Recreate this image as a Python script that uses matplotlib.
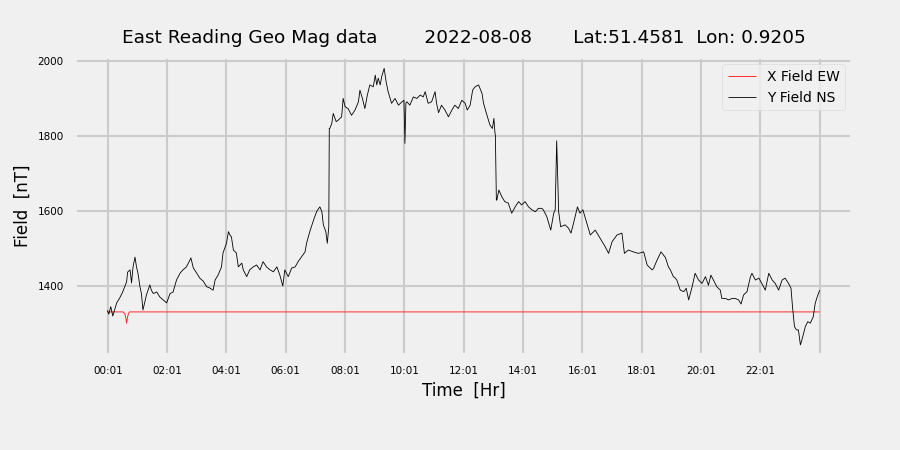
import numpy as np
import matplotlib
matplotlib.use("Agg")
import matplotlib.pyplot as plt

# Y field (NS) samples, minute of day and field in nT
y_min = [0, 3, 7, 11, 15, 19, 25, 31, 39, 41, 46, 49, 52, 56, 59, 62, 66, 69, 72, 76,
         79, 86, 89, 93, 100, 106, 113, 120, 127, 133, 140, 147, 153, 160, 167, 169, 174, 181, 187, 194,
         201, 207, 214, 218, 224, 231, 234, 241, 245, 248, 251, 255, 261, 265, 272, 275, 282, 288, 295, 302,
         309, 315, 322, 329, 336, 343, 349, 355, 359, 366, 373, 380, 386, 393, 400, 403, 410, 417, 424, 430,
         434, 437, 442, 445, 448, 449, 450, 454, 457, 463, 467, 474, 477, 481, 487, 494, 501, 508, 511, 516,
         521, 526, 531, 538, 542, 545, 548, 552, 555, 560, 564, 568, 575, 582, 589, 596, 600, 602, 604, 606,
         612, 619, 626, 633, 639, 643, 649, 656, 663, 666, 670, 676, 683, 690, 697, 703, 710, 717, 724, 728,
         734, 739, 744, 751, 758, 761, 768, 774, 779, 782, 784, 785, 787, 788, 792, 798, 804, 811, 818, 825,
         832, 838, 845, 852, 859, 866, 872, 879, 882, 889, 897, 903, 906, 909, 913, 917, 926, 933, 938, 943,
         951, 956, 962, 970, 977, 987, 997, 1007, 1014, 1021, 1031, 1041, 1046, 1054, 1064, 1074, 1085, 1092, 1102, 1105,
         1112, 1120, 1129, 1135, 1139, 1142, 1145, 1149, 1152, 1159, 1166, 1171, 1176, 1183, 1189, 1196, 1203, 1210, 1216, 1221,
         1226, 1233, 1240, 1243, 1250, 1257, 1264, 1270, 1277, 1282, 1287, 1294, 1301, 1304, 1311, 1318, 1324, 1331, 1338, 1345,
         1351, 1358, 1365, 1371, 1378, 1383, 1386, 1390, 1394, 1398, 1402, 1405, 1412, 1417, 1422, 1428, 1432, 1436, 1441]
y_val = [1335, 1325, 1345, 1320, 1338, 1355, 1368, 1384, 1411, 1437, 1443, 1408, 1451, 1477, 1451, 1434, 1398, 1380, 1336, 1358,
         1376, 1403, 1389, 1380, 1384, 1371, 1363, 1355, 1380, 1384, 1416, 1434, 1443, 1451, 1469, 1475, 1448, 1434, 1421, 1413,
         1398, 1395, 1389, 1416, 1429, 1451, 1488, 1514, 1545, 1536, 1531, 1496, 1488, 1451, 1461, 1443, 1425, 1443, 1451, 1456,
         1443, 1465, 1451, 1443, 1438, 1451, 1429, 1400, 1443, 1425, 1448, 1451, 1465, 1478, 1491, 1514, 1547, 1575, 1600, 1611,
         1598, 1563, 1545, 1514, 1558, 1820, 1820, 1833, 1860, 1838, 1842, 1851, 1900, 1878, 1873, 1855, 1869, 1891, 1922, 1900,
         1873, 1909, 1936, 1931, 1962, 1936, 1954, 1936, 1958, 1980, 1944, 1918, 1887, 1900, 1882, 1891, 1895, 1780, 1888, 1891,
         1882, 1904, 1900, 1909, 1904, 1918, 1887, 1891, 1918, 1887, 1862, 1882, 1869, 1851, 1869, 1882, 1873, 1895, 1887, 1869,
         1882, 1922, 1931, 1936, 1913, 1887, 1855, 1829, 1820, 1847, 1811, 1800, 1629, 1629, 1656, 1638, 1625, 1621, 1594, 1611,
         1625, 1616, 1625, 1611, 1603, 1598, 1607, 1607, 1603, 1585, 1549, 1594, 1603, 1787, 1598, 1558, 1563, 1554, 1541, 1567,
         1611, 1594, 1603, 1567, 1536, 1549, 1527, 1505, 1487, 1518, 1536, 1541, 1487, 1496, 1491, 1487, 1491, 1456, 1443, 1447,
         1469, 1491, 1476, 1451, 1443, 1434, 1425, 1421, 1416, 1389, 1385, 1394, 1363, 1398, 1434, 1416, 1407, 1425, 1402, 1429,
         1416, 1398, 1389, 1367, 1367, 1363, 1367, 1367, 1363, 1352, 1376, 1385, 1425, 1434, 1416, 1421, 1407, 1389, 1434, 1416,
         1407, 1389, 1416, 1421, 1407, 1394, 1345, 1292, 1283, 1283, 1243, 1256, 1292, 1305, 1301, 1318, 1354, 1371, 1389]

# X field (EW): flat with a short dip early on
x_min = [0, 32, 35, 37, 39, 41, 43, 45, 1441]
x_val = [1331, 1331, 1327, 1318, 1301, 1318, 1327, 1331, 1331]

tick_pos = [1, 121, 241, 361, 481, 601, 721, 841, 961, 1081, 1201, 1321, 1441]
tick_lab = ['00:01', '02:01', '04:01', '06:01', '08:01', '10:01', '12:01',
            '14:01', '16:01', '18:01', '20:01', '22:01', '']

plt.style.use('fivethirtyeight')

fig = plt.figure(figsize=(9, 4.5), dpi=100)
ax = fig.add_axes([0.083, 0.211, 0.864, 0.662])

ax.plot(x_min, x_val, color='#ff2a2a', linewidth=0.7, label='X Field EW')
ax.plot(y_min, y_val, color='black', linewidth=0.6, label='Y Field NS')

ax.set_xlim(-66, 1507)
ax.set_ylim(1216, 2010)
ax.set_xticks(tick_pos)
ax.set_xticklabels(tick_lab)
ax.set_yticks([1400, 1600, 1800, 2000])
ax.tick_params(axis='both', labelsize=7.5, pad=8)
ax.grid(True, color='#cbcbcb', linewidth=1.5)

ax.set_title('East Reading Geo Mag data        2022-08-08       Lat:51.4581  Lon: 0.9205',
             fontsize=13.3, pad=10)
ax.set_xlabel('Time  [Hr]', fontsize=12)
ax.set_ylabel('Field  [nT]', fontsize=12)

leg = ax.legend(loc='upper right', fontsize=10, frameon=True)
leg.get_frame().set_facecolor('#f0f0f0')
leg.get_frame().set_edgecolor('#d8d8d8')

fig.savefig('out.png', dpi=100, facecolor='#f0f0f0')
